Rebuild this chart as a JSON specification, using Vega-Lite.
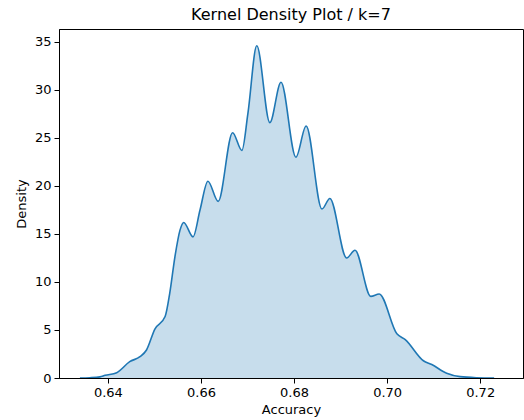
{
  "$schema": "https://vega.github.io/schema/vega-lite/v6.json",
  "autosize": {"type": "none"},
  "padding": {"left": 59, "top": 29, "right": 1, "bottom": 42},
  "width": 464,
  "height": 349,
  "background": "white",
  "title": {"text": "Kernel Density Plot / k=7", "font": "DejaVu Sans", "fontSize": 16, "fontWeight": "normal", "color": "black", "offset": 6},
  "config": {
    "view": {"stroke": "black", "strokeWidth": 1},
    "axis": {"grid": false, "domainColor": "black", "tickColor": "black", "tickSize": 5, "labelFont": "DejaVu Sans", "labelFontSize": 13, "labelColor": "black", "titleFont": "DejaVu Sans", "titleFontSize": 13, "titleFontWeight": "normal", "titleColor": "black", "labelPadding": 3}
  },
  "data": {"values": [
    {"accuracy": 0.6340, "density": 0.00},
    {"accuracy": 0.6361, "density": 0.03},
    {"accuracy": 0.6383, "density": 0.12},
    {"accuracy": 0.6394, "density": 0.28},
    {"accuracy": 0.6419, "density": 0.55},
    {"accuracy": 0.6447, "density": 1.70},
    {"accuracy": 0.6469, "density": 2.22},
    {"accuracy": 0.6483, "density": 2.92},
    {"accuracy": 0.6501, "density": 5.10},
    {"accuracy": 0.6523, "density": 6.40},
    {"accuracy": 0.6533, "density": 8.85},
    {"accuracy": 0.6544, "density": 12.6},
    {"accuracy": 0.6555, "density": 15.4},
    {"accuracy": 0.6563, "density": 16.2},
    {"accuracy": 0.6583, "density": 14.7},
    {"accuracy": 0.6598, "density": 17.5},
    {"accuracy": 0.6615, "density": 20.5},
    {"accuracy": 0.6637, "density": 18.4},
    {"accuracy": 0.6668, "density": 25.55},
    {"accuracy": 0.6688, "density": 23.7},
    {"accuracy": 0.6701, "density": 27.6},
    {"accuracy": 0.6720, "density": 34.6},
    {"accuracy": 0.6748, "density": 26.6},
    {"accuracy": 0.6772, "density": 30.8},
    {"accuracy": 0.6804, "density": 23.0},
    {"accuracy": 0.6826, "density": 26.25},
    {"accuracy": 0.6860, "density": 17.6},
    {"accuracy": 0.6877, "density": 18.7},
    {"accuracy": 0.6913, "density": 12.5},
    {"accuracy": 0.6931, "density": 13.3},
    {"accuracy": 0.6965, "density": 8.5},
    {"accuracy": 0.6983, "density": 8.75},
    {"accuracy": 0.7021, "density": 4.6},
    {"accuracy": 0.7039, "density": 4.0},
    {"accuracy": 0.7078, "density": 1.8},
    {"accuracy": 0.7096, "density": 1.4},
    {"accuracy": 0.7128, "density": 0.5},
    {"accuracy": 0.7157, "density": 0.14},
    {"accuracy": 0.7193, "density": 0.03},
    {"accuracy": 0.7230, "density": 0.0}
  ]},
  "encoding": {
    "x": {"field": "accuracy", "type": "quantitative", "scale": {"domain": [0.6295, 0.7292], "nice": false, "zero": false}, "axis": {"values": [0.64, 0.66, 0.68, 0.70, 0.72], "format": ".2f", "title": "Accuracy", "titlePadding": 4}},
    "y": {"field": "density", "type": "quantitative", "scale": {"domain": [0, 36.35], "nice": false}, "axis": {"values": [0, 5, 10, 15, 20, 25, 30, 35], "title": "Density", "titlePadding": 6}}
  },
  "layer": [
    {"mark": {"type": "area", "interpolate": "monotone", "color": "#1f77b4", "opacity": 0.25, "clip": true}},
    {"mark": {"type": "line", "interpolate": "monotone", "color": "#1f77b4", "strokeWidth": 1.6, "clip": true}}
  ]
}
